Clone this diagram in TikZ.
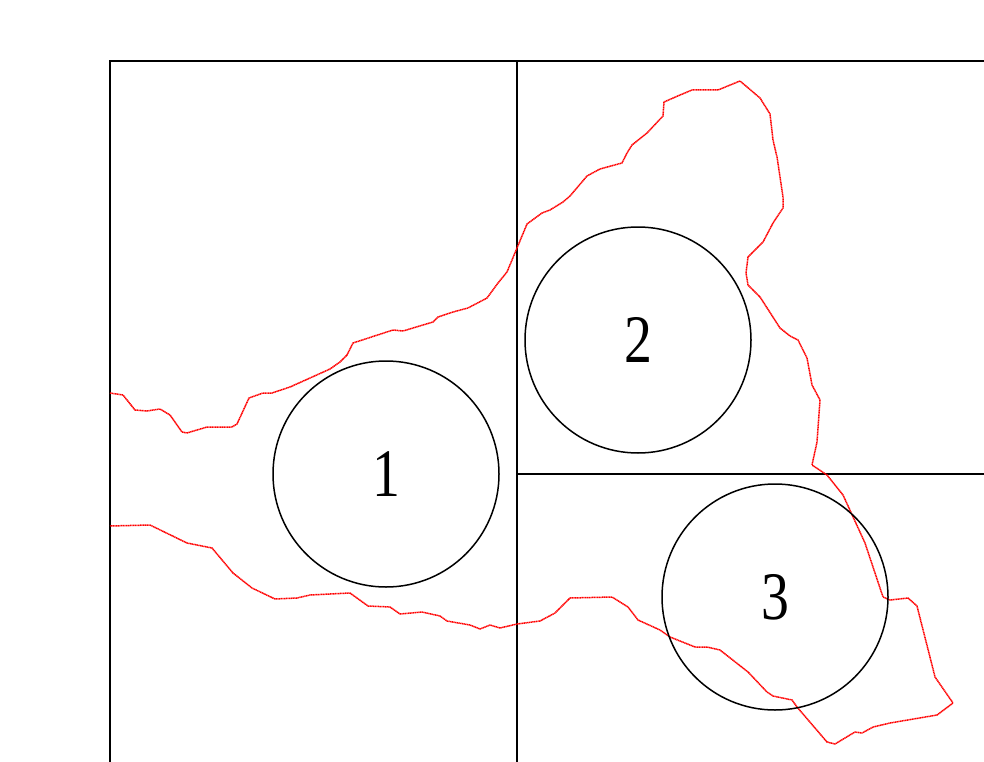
\documentclass[tikz,border=0pt]{standalone}
\usepackage{fontspec}
\newfontfamily\chiffrefont[FakeStretch=0.82]{Liberation Serif}
\definecolor{rouge}{RGB}{255,0,0}
\usepackage{tikz}
\usetikzlibrary{calc}

\begin{document}
\begin{tikzpicture}[x=1pt,y=-1pt,
	cadre/.style={black,line width=1.5pt},
	frontiere/.style={rouge,line width=1.5pt,dash pattern=on 1.2pt off 0.5pt,line join=round},
	cercle/.style={circle,draw,line width=1.5pt,minimum size=226pt,inner sep=0pt,
		font=\chiffrefont\fontsize{68}{68}\selectfont}]
	\useasboundingbox (0,0) rectangle (984,762);
	
	%% Cadre et découpage
	\draw[cadre] (110,762)--(110,61)--(984,61);
	\draw[cadre] (517,61)--(517,762);
	\draw[cadre] (517,474)--(984,474);
	
	%% Contour (pointillé rouge)
	\draw[frontiere] (110,393)--(123,395)--(135,410)--(147,411)--(160,409)--(170,415)
	--(182,432)--(187,433)--(207,427)--(232,427)--(237,424)--(249,398)--(263,393)
	--(272,393)--(290,387)--(330,369)--(340,362)--(347,355)--(353,343)--(393,330)
	--(403,331)--(423,325)--(433,322)--(438,317)--(453,312)--(468,308)--(487,298)
	--(498,283)--(507,272)--(517,248)--(527,224)--(542,213)--(550,210)--(563,202)
	--(570,196)--(587,176)--(600,169)--(622,163)--(627,153)--(632,145)--(647,133)
	--(663,116)--(664,102)--(680,95)--(692,90)--(718,90)--(740,81)--(760,98)
	--(770,114)--(773,140)--(777,157)--(783,197)--(783,208)--(773,223)--(763,242)
	--(748,257)--(746,273)--(748,285)--(760,297)--(780,328)--(790,336)--(798,340)
	--(807,358)--(812,385)--(820,400)--(817,442)--(812,465)--(827,475)--(843,495)
	--(865,543)--(883,597)--(890,600)--(908,598)--(917,606)--(935,677)--(953,703)
	--(937,715)--(890,723)--(873,727)--(862,733)--(855,732)--(835,744)--(827,742)
	--(797,707)--(792,700)--(773,696)--(767,692)--(748,672)--(720,650)--(707,647)
	--(695,647)--(670,637)--(660,630)--(638,620)--(628,607)--(612,597)--(570,598)
	--(555,613)--(540,621)--(517,624)--(500,628)--(490,625)--(480,629)--(470,625)
	--(447,621)--(440,616)--(422,612)--(400,614)--(390,607)--(368,606)--(350,593)
	--(310,595)--(297,598)--(275,599)--(252,588)--(233,573)--(212,548)--(192,544)
	--(187,543)--(150,525)--(110,526);
	
	%% Zones numérotées
	\foreach \n/\x/\y in {1/386/474,2/638/340,3/775/597}
	\node[cercle] (zone\n) at (\x,\y) {\n};
\end{tikzpicture}
\end{document}
